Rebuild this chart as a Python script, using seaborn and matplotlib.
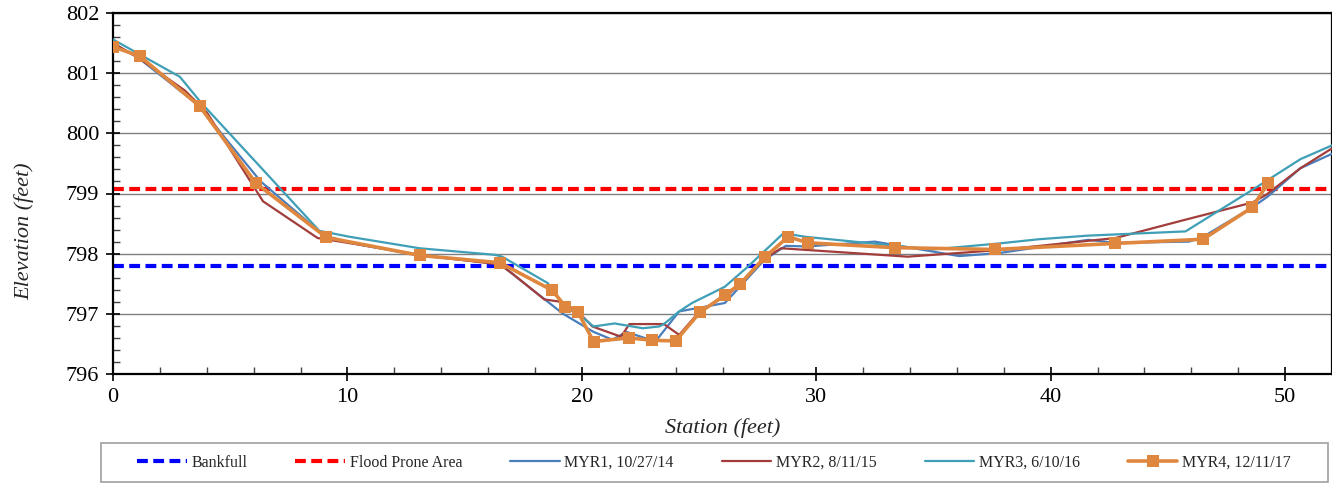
import matplotlib
matplotlib.use("Agg")
import matplotlib.pyplot as plt
from matplotlib.ticker import MultipleLocator
from matplotlib.patches import Rectangle
import seaborn as sns
import pandas as pd

# ---- data ----
bankfull = 797.8
flood_prone = 799.07

myr1_x = [0, 1.1, 3.7, 4.2, 6.3, 9.0, 10.5, 13.1, 16.5, 17.7, 19.2, 20.5, 21.3, 21.9, 22.9, 23.2, 24.15, 26.1, 27.8, 28.7, 29.6, 32.5, 36.1, 37.8, 41.6, 42.75, 45.9, 46.5, 48.6, 49.26, 50.65, 52.0]
myr1_y = [801.5, 801.25, 800.45, 800.2, 799.2, 798.3, 798.15, 797.97, 797.83, 797.46, 797.0, 796.7, 796.57, 796.7, 796.57, 796.57, 797.04, 797.18, 797.9, 798.13, 798.12, 798.2, 797.96, 798.01, 798.23, 798.18, 798.2, 798.28, 798.77, 798.95, 799.42, 799.66]

myr2_x = [0, 1.1, 3.07, 4.0, 6.4, 8.73, 10.5, 13.1, 16.5, 17.0, 18.4, 19.1, 19.8, 20.45, 21.67, 22.03, 23.5, 24.15, 25.0, 26.3, 26.9, 27.8, 28.5, 33.9, 37.8, 42.76, 45.7, 48.6, 49.2, 50.65, 52.0]
myr2_y = [801.5, 801.25, 800.71, 800.35, 798.87, 798.26, 798.15, 797.98, 797.82, 797.68, 797.24, 797.2, 797.05, 796.79, 796.62, 796.83, 796.83, 796.65, 797.03, 797.34, 797.55, 797.92, 798.09, 797.95, 798.06, 798.26, 798.56, 798.85, 798.98, 799.42, 799.75]

myr3_x = [0, 2.85, 3.78, 8.8, 10.1, 13.08, 16.3, 16.6, 18.55, 19.26, 19.97, 20.5, 21.4, 22.6, 23.3, 23.5, 24.15, 24.7, 26.1, 27.1, 28.6, 29.55, 34.95, 37.8, 39.5, 41.6, 45.75, 48.6, 50.65, 52.0]
myr3_y = [801.56, 800.94, 800.5, 798.38, 798.28, 798.09, 797.98, 797.95, 797.51, 797.12, 796.96, 796.79, 796.84, 796.76, 796.79, 796.83, 797.04, 797.18, 797.45, 797.79, 798.34, 798.28, 798.07, 798.17, 798.24, 798.3, 798.37, 799.06, 799.57, 799.8]

myr4_x = [0, 1.15, 3.7, 6.1, 9.1, 13.1, 16.5, 18.74, 19.3, 19.83, 20.5, 22.0, 23.0, 24.0, 25.05, 26.1, 26.76, 27.8, 28.8, 29.66, 33.35, 37.64, 42.75, 46.5, 48.6, 49.27]
myr4_y = [801.44, 801.28, 800.45, 799.17, 798.27, 797.97, 797.85, 797.39, 797.12, 797.03, 796.54, 796.6, 796.56, 796.55, 797.03, 797.31, 797.5, 797.94, 798.28, 798.18, 798.1, 798.07, 798.17, 798.24, 798.77, 799.17]

series_names = ["MYR1, 10/27/14", "MYR2, 8/11/15", "MYR3, 6/10/16", "MYR4, 12/11/17"]
x_ticks = [0, 10, 20, 30, 40, 50]
y_ticks = [796, 797, 798, 799, 800, 801, 802]

# ---- style ----
sns.set_theme(style="white")
plt.rcParams['font.family'] = ['Liberation Serif', 'DejaVu Serif']

W, H = 1332, 483
fig = plt.figure(figsize=(W / 100, H / 100), dpi=100)
ax = fig.add_axes([113 / W, 1 - 374 / H, 1 - 113 / W, (374 - 13) / H])

ax.set_xlim(0, 52)
ax.set_ylim(796, 802)

# grid
for yv in y_ticks:
    ax.axhline(yv, color="#7f7f7f", lw=1.0, zorder=0)

# reference lines
ax.axhline(bankfull, color="#0000FF", lw=3.0, dashes=(2.6, 1.3), label="Bankfull", zorder=2)
ax.axhline(flood_prone, color="#FF0000", lw=3.0, dashes=(2.6, 1.3), label="Flood Prone Area", zorder=2)

colors = ["#4A7EBB", "#A23D3B", "#3F9FB6", "#E0873F"]
data = [(myr1_x, myr1_y), (myr2_x, myr2_y), (myr3_x, myr3_y)]
for (xs, ys), name, c in zip(data, series_names[:3], colors[:3]):
    df = pd.DataFrame({"Station": xs, "Elevation": ys})
    sns.lineplot(data=df, x="Station", y="Elevation", ax=ax, color=c, lw=1.6,
                 sort=False, estimator=None, label=name, zorder=3)

df4 = pd.DataFrame({"Station": myr4_x, "Elevation": myr4_y})
sns.lineplot(data=df4, x="Station", y="Elevation", ax=ax, color=colors[3], lw=2.6,
             marker="s", markersize=8.5, markeredgewidth=0, sort=False, estimator=None,
             label=series_names[3], zorder=4)

# axes styling
for s in ax.spines.values():
    s.set_color("black")
    s.set_linewidth(1.6)
ax.set_xticks(x_ticks)
ax.set_yticks(y_ticks)
ax.xaxis.set_minor_locator(MultipleLocator(2))
ax.yaxis.set_minor_locator(MultipleLocator(0.2))
ax.tick_params(axis="both", which="major", direction="inout", length=10, width=1.2,
               labelsize=16, colors="black", bottom=True, left=True, pad=5)
ax.tick_params(axis="both", which="minor", direction="in", length=5, width=1.0,
               colors="#444444", bottom=True, left=True)
ax.set_xlabel("Station (feet)", fontsize=16, style="italic", labelpad=8)
ax.set_ylabel("Elevation (feet)", fontsize=16, style="italic")
ax.yaxis.set_label_coords(-(113 - 34) / (W - 113), (374 - 231) / 361)

# legend
handles, labels = ax.get_legend_handles_labels()
if ax.legend_:
    ax.legend_.remove()
fig.patches.append(Rectangle((101 / W, 1 - 482 / H), 1227 / W, 39 / H,
                             transform=fig.transFigure, fill=False,
                             edgecolor="#a0a0a0", lw=1.2))
leg = fig.legend(handles, labels, loc="center", ncol=6,
                 bbox_to_anchor=(714 / W, 1 - 463 / H), fontsize=11.5,
                 frameon=False, handlelength=3.1, handletextpad=0.3,
                 columnspacing=3.0, borderaxespad=0.0)

fig.savefig("out.png", dpi=100)
